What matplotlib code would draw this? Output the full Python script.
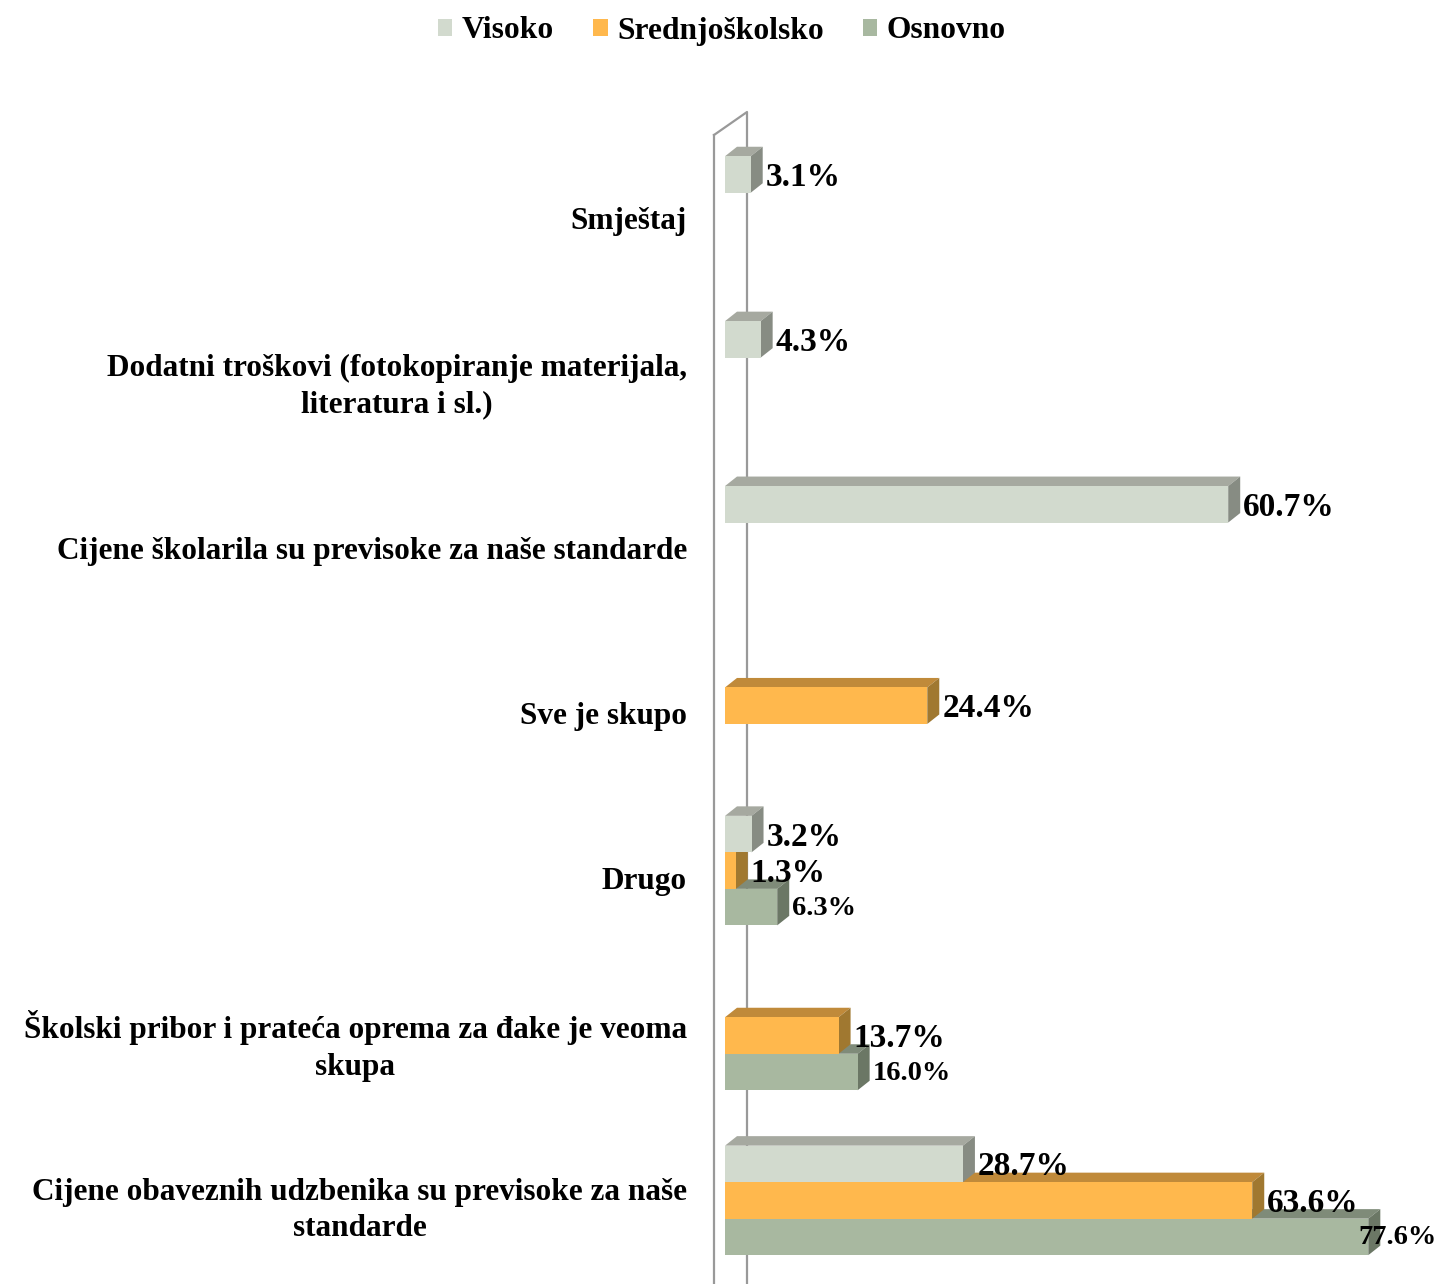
import matplotlib
matplotlib.use('Agg')
import matplotlib.pyplot as plt
from matplotlib.patches import Polygon, Patch
from matplotlib.font_manager import FontProperties
import numpy as np

nan = np.nan
categories = [
    "Smještaj",
    "Dodatni troškovi (fotokopiranje materijala,\nliteratura i sl.)",
    "Cijene školarila su previsoke za naše standarde",
    "Sve je skupo",
    "Drugo",
    "Školski pribor i prateća oprema za đake je veoma\nskupa",
    "Cijene obaveznih udzbenika su previsoke za naše\nstandarde",
]
series_names = ["Visoko", "Srednjoškolsko", "Osnovno"]
visoko = [3.1, 4.3, 60.7, nan, 3.2, nan, 28.7]
srednjoskolsko = [nan, nan, nan, 24.4, 1.3, 13.7, 63.6]
osnovno = [nan, nan, nan, nan, 6.3, 16.0, 77.6]

front_cols = ["#D2DACE", "#FFB84D", "#A8B8A0"]
top_cols = ["#A6A9A0", "#C08A3A", "#7F8B79"]
side_cols = ["#878C83", "#A07830", "#6B7765"]

FONT = "Liberation Serif"

W, H = 1440, 1284
fig = plt.figure(figsize=(W / 100, H / 100), dpi=100)

zero_px, ppp = 725.0, 8.29          # pixel of 0 %, pixels per percent
c0_px, cat_px = 211.0, 164.9        # pixel of first category center, spacing
ax_left_px, ax_top_px = 700.0, 100.0
ax = fig.add_axes([ax_left_px / W, 0, (W - ax_left_px) / W, (H - ax_top_px) / H])
ax.set_xlim((ax_left_px - zero_px) / ppp, (W - zero_px) / ppp)
ax.set_ylim((H - c0_px) / cat_px, (ax_top_px - c0_px) / cat_px)

h = 36.5 / cat_px
dx = 12.0 / ppp
dy = 9.5 / cat_px
y = np.arange(len(categories))

# wall
xf, xb = -11.0 / ppp, 22.0 / ppp
yft, ybt = (135 - c0_px) / cat_px, (112 - c0_px) / cat_px
ybot = (H + 20 - c0_px) / cat_px
ax.plot([xf, xf], [ybot, yft], color="#999999", lw=1.6, zorder=0.5, clip_on=False)
ax.plot([xf, xb, xb], [yft, ybt, ybot], color="#999999", lw=1.6, zorder=0.5, clip_on=False)

all_series = [visoko, srednjoskolsko, osnovno]
offsets = [-h, 0.0, h]
labels = []
for j in [2, 1, 0]:
    vals = np.array(all_series[j], dtype=float)
    yc = y + offsets[j]
    z = 1 + (2 - j)
    ax.barh(yc, vals, height=h, color=front_cols[j], linewidth=0, zorder=z + 0.2)
    for yi, v in zip(yc, vals):
        if np.isnan(v):
            continue
        yt, yb = yi - h / 2, yi + h / 2
        ax.add_patch(Polygon([(0, yt), (v, yt), (v + dx, yt - dy), (dx, yt - dy)],
                             closed=True, facecolor=top_cols[j], edgecolor='none', zorder=z + 0.1))
        ax.add_patch(Polygon([(v, yt), (v + dx, yt - dy), (v + dx, yb - dy), (v, yb)],
                             closed=True, facecolor=side_cols[j], edgecolor='none', zorder=z + 0.1))
        if j == 2:
            fs, ysh = 20.5, 1.0 / cat_px
        else:
            fs, ysh = 24.0, 3.0 / cat_px
        t = ax.text(v + dx + 3.0 / ppp, yi + ysh, f"{v:.1f}%", ha='left', va='center',
                    fontsize=fs, fontweight='bold', family=FONT, color='black', zorder=10,
                    clip_on=False)
        labels.append(t)

tick_y = [i + (0.045 if "\n" not in c else 0.02) for i, c in enumerate(categories)]
ax.set_yticks(tick_y)
ax.set_yticklabels(categories, fontsize=22.5, fontweight='bold', family=FONT,
                   multialignment='center', linespacing=1.33)
ax.tick_params(axis='y', length=0, pad=9.4)
ax.set_xticks([])
for s in ax.spines.values():
    s.set_visible(False)
ax.patch.set_alpha(0)

handles = [Patch(facecolor=c, edgecolor='none', label=n) for c, n in zip(front_cols, series_names)]
fig.legend(handles=handles, loc='center', bbox_to_anchor=(722 / W, 1 - 31 / H), ncol=3,
           frameon=False, prop=FontProperties(family=FONT, weight='bold', size=22.7),
           handlelength=0.45, handleheight=0.45, handletextpad=0.3, columnspacing=1.25)

fig.canvas.draw()
for t in labels:
    bb = t.get_window_extent()
    if bb.x1 > W - 3:
        xd = ax.transData.inverted().transform((W - 3, 0))[0]
        t.set_x(xd)
        t.set_ha('right')

fig.savefig("out.png", dpi=100)
